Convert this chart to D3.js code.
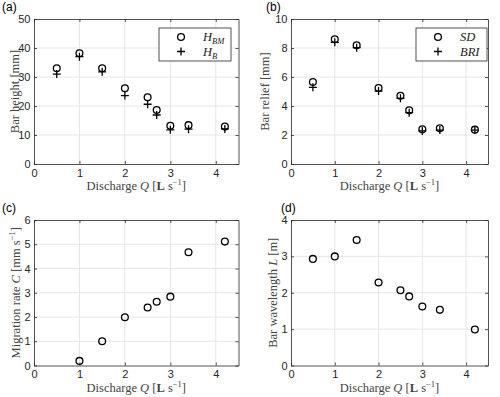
<!DOCTYPE html>
<html><head><meta charset="utf-8">
<script src="https://cdn.jsdelivr.net/npm/d3@7"></script>
<style>body{margin:0;background:#fff}svg{display:block}</style>
</head><body>
<script>
const Q = [0.5, 1, 1.5, 2, 2.5, 2.7, 3, 3.4, 4.2];
const H_BM = [33, 38.2, 33, 26.1, 23, 18.6, 13.2, 13.4, 12.9];
const H_B = [31, 37, 31.8, 23.6, 20.6, 16.9, 11.8, 12, 12.1];
const SD = [5.66, 8.6, 8.19, 5.24, 4.71, 3.70, 2.39, 2.46, 2.37];
const BRI = [5.29, 8.39, 8.02, 5.03, 4.53, 3.54, 2.28, 2.34, 2.34];
const Qc = [1, 1.5, 2, 2.5, 2.7, 3, 3.4, 4.2];
const C = [0.19, 1.0, 1.99, 2.39, 2.63, 2.84, 4.67, 5.11];
const L = [2.93, 3.0, 3.45, 2.28, 2.07, 1.9, 1.62, 1.53, 0.99];
const xTicks = [0, 1, 2, 3, 4];

const svg = d3.select("body").append("svg").attr("width", 500).attr("height", 397);
const sans = "'Liberation Sans', Arial, sans-serif";
const serif = "'Liberation Serif', 'DejaVu Serif', serif";
const axCol = "#262626";
const fmt = d3.format("d");

function panel(o) {
  const g = svg.append("g");
  const x = d3.scaleLinear().domain([0, 4.5]).range([o.l, o.r]);
  const y = d3.scaleLinear().domain([0, o.ymax]).range([o.b, o.t]);
  // grid
  g.selectAll(".gx").data(xTicks.filter(v => v > 0)).join("line")
    .attr("x1", d => x(d)).attr("x2", d => x(d)).attr("y1", o.t).attr("y2", o.b)
    .attr("stroke", "#e6e6e6").attr("stroke-width", 1);
  g.selectAll(".gy").data(o.yTicks.filter(v => v > 0 && v < o.ymax)).join("line")
    .attr("y1", d => y(d)).attr("y2", d => y(d)).attr("x1", o.l).attr("x2", o.r)
    .attr("stroke", "#e6e6e6").attr("stroke-width", 1);
  // axes
  const xa = g.append("g").attr("transform", `translate(0,${o.b})`)
    .call(d3.axisBottom(x).tickValues(xTicks).tickFormat(fmt).tickSize(-3).tickPadding(6).tickSizeOuter(0));
  const xt = g.append("g").attr("transform", `translate(0,${o.t})`)
    .call(d3.axisTop(x).tickValues(xTicks).tickSize(-3).tickFormat("").tickSizeOuter(0));
  const ya = g.append("g").attr("transform", `translate(${o.l},0)`)
    .call(d3.axisLeft(y).tickValues(o.yTicks).tickFormat(fmt).tickSize(-3).tickPadding(3.5).tickSizeOuter(0));
  const yr = g.append("g").attr("transform", `translate(${o.r},0)`)
    .call(d3.axisRight(y).tickValues(o.yTicks).tickSize(-3).tickFormat("").tickSizeOuter(0));
  [xa, xt, ya, yr].forEach(a => {
    a.selectAll("path").attr("stroke", axCol).attr("stroke-width", 0.8);
    a.selectAll("line").attr("stroke", axCol).attr("stroke-width", 0.8);
    a.selectAll("text").attr("fill", axCol).style("font-family", sans).style("font-size", "11px");
  });
  xa.selectAll("text").attr("dy", "0.6em");
  // x label
  const xl = g.append("text").attr("x", (o.l + o.r) / 2).attr("y", o.b + 26)
    .attr("text-anchor", "middle").style("font-family", serif).style("font-size", "12.5px").attr("fill", "#444");
  xl.append("tspan").text("Discharge ");
  xl.append("tspan").attr("font-style", "italic").text("Q");
  xl.append("tspan").text(" [");
  xl.append("tspan").attr("font-weight", "bold").text("L");
  xl.append("tspan").text(" s");
  xl.append("tspan").attr("dy", -5).style("font-size", "8.5px").text("−1");
  xl.append("tspan").attr("dy", 5).text("]");
  // y label
  const yl = g.append("text").attr("transform", `translate(${o.ylx},${(o.t + o.b) / 2}) rotate(-90)`)
    .attr("text-anchor", "middle").style("font-family", serif).style("font-size", "12.5px").attr("fill", "#444");
  o.ylab(yl);
  // panel letter
  g.append("text").attr("x", o.px).attr("y", o.t - 8).text(o.letter)
    .style("font-family", sans).style("font-size", "12px").attr("fill", "#000");
  return {g, x, y};
}

function circles(p, xs, ys) {
  p.g.selectAll(null).data(xs.map((d, i) => [d, ys[i]])).join("circle")
    .attr("cx", d => p.x(d[0])).attr("cy", d => p.y(d[1])).attr("r", 3.4)
    .attr("fill", "none").attr("stroke", "#000").attr("stroke-width", 1.3);
}
function pluses(p, xs, ys) {
  const s = 4;
  p.g.selectAll(null).data(xs.map((d, i) => [d, ys[i]])).join("path")
    .attr("d", d => { const cx = p.x(d[0]), cy = p.y(d[1]); return `M${cx - s},${cy}H${cx + s}M${cx},${cy - s}V${cy + s}`; })
    .attr("stroke", "#000").attr("stroke-width", 1.3).attr("fill", "none");
}
function legend(p, bx, by, bw, bh, items) {
  const g = p.g.append("g");
  g.append("rect").attr("x", bx).attr("y", by).attr("width", bw).attr("height", bh)
    .attr("fill", "#fff").attr("stroke", axCol).attr("stroke-width", 0.8);
  items.forEach((it, i) => {
    const cy = by + 9 + i * 14.5;
    const mx = bx + 22;
    if (it.m === "o") g.append("circle").attr("cx", mx).attr("cy", cy).attr("r", 3.4)
      .attr("fill", "none").attr("stroke", "#000").attr("stroke-width", 1.3);
    else g.append("path").attr("d", `M${mx - 4},${cy}H${mx + 4}M${mx},${cy - 4}V${cy + 4}`)
      .attr("stroke", "#000").attr("stroke-width", 1.3);
    const t = g.append("text").attr("x", bx + 44).attr("y", cy + 4)
      .style("font-family", serif).style("font-size", "12.5px").attr("fill", "#222").attr("font-style", "italic");
    it.t(t);
  });
}

// (a)
const pa = panel({l: 34, r: 238.5, t: 19, b: 164, ymax: 50, yTicks: [0, 10, 20, 30, 40, 50], ylx: 18.5, px: 2, letter: "(a)",
  ylab: t => t.text("Bar height [mm]")});
circles(pa, Q, H_BM); pluses(pa, Q, H_B);
legend(pa, 159, 28, 72, 33, [
  {m: "o", t: t => { t.append("tspan").text("H"); t.append("tspan").attr("dy", 3).style("font-size", "8.5px").text("BM"); }},
  {m: "+", t: t => { t.append("tspan").text("H"); t.append("tspan").attr("dy", 3).style("font-size", "8.5px").text("B"); }}
]);

// (b)
const pb = panel({l: 291, r: 488, t: 19, b: 164, ymax: 10, yTicks: [0, 2, 4, 6, 8, 10], ylx: 269, px: 266, letter: "(b)",
  ylab: t => t.text("Bar relief [mm]")});
circles(pb, Q, SD); pluses(pb, Q, BRI);
legend(pb, 416, 28, 71, 33, [
  {m: "o", t: t => t.text("SD")},
  {m: "+", t: t => t.text("BRI")}
]);

// (c)
const pc = panel({l: 34, r: 238.5, t: 220, b: 365.5, ymax: 6, yTicks: [0, 1, 2, 3, 4, 5, 6], ylx: 20, px: 2, letter: "(c)",
  ylab: t => { t.append("tspan").text("Migration rate "); t.append("tspan").attr("font-style", "italic").text("C");
    t.append("tspan").text(" [mm s"); t.append("tspan").attr("dy", -5).style("font-size", "8.5px").text("−1");
    t.append("tspan").attr("dy", 5).text("]"); }});
circles(pc, Qc, C);

// (d)
const pd = panel({l: 291, r: 488, t: 220, b: 365.5, ymax: 4, yTicks: [0, 1, 2, 3, 4], ylx: 277, px: 281, letter: "(d)",
  ylab: t => { t.append("tspan").text("Bar wavelength "); t.append("tspan").attr("font-style", "italic").text("L");
    t.append("tspan").text(" [m]"); }});
circles(pd, Q, L);
</script>
</body></html>
